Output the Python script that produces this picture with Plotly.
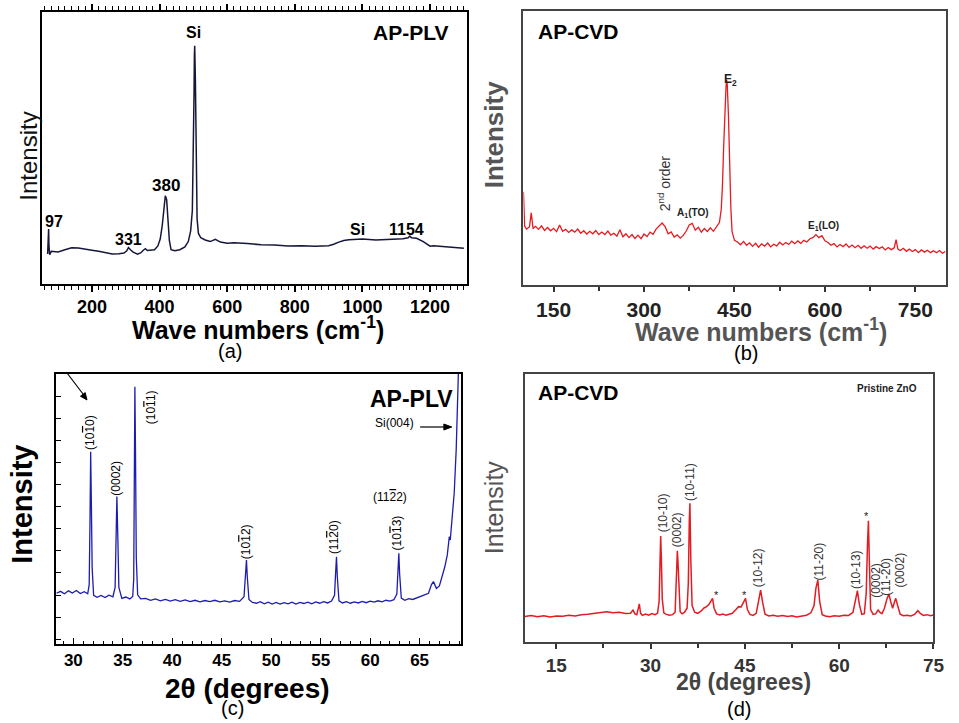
import plotly.graph_objects as go

W, H = 959, 723
SANS = "Liberation Sans, Arial, sans-serif"

# ---------------- (a) Raman spectrum, AP-PLV ----------------
raman_plv_x = [69, 71, 72, 73, 75, 80, 100, 120, 140, 160,
               180, 200, 220, 240, 260, 280, 295, 303, 308, 314,
               322, 335, 345, 352, 358, 364, 372, 385, 395, 402,
               408, 413, 417, 421, 425, 429, 434, 445, 460, 475,
               485, 492, 497, 500, 502, 503, 504, 506, 508, 511,
               515, 522, 535, 550, 565, 580, 600, 620, 660, 700,
               740, 780, 820, 860, 900, 915, 930, 945, 960, 1000,
               1040, 1080, 1120, 1135, 1140, 1145, 1160, 1180, 1190, 1200,
               1210, 1240, 1270, 1300]
raman_plv_y = [11.0, 16.0, 20.2, 14.0, 10.8, 12.0, 11.8, 12.6, 13.3, 13.2,
               12.9, 12.4, 12.0, 11.4, 11.0, 11.1, 11.4, 12.2, 13.4, 12.6,
               11.7, 11.0, 11.5, 12.4, 13.0, 12.3, 12.5, 12.6, 14.0, 16.5,
               21.5, 29.0, 32.4, 31.0, 24.0, 16.0, 12.6, 12.2, 12.6, 13.6,
               15.6, 19.5, 27.0, 45.0, 70.0, 84.0, 87.6, 75.0, 45.0, 24.0,
               18.6, 17.0, 16.2, 15.6, 16.4, 15.4, 15.0, 15.2, 14.9, 14.4,
               14.3, 14.0, 14.1, 13.9, 14.1, 14.6, 15.4, 16.0, 16.3, 16.5,
               16.2, 16.3, 16.6, 17.0, 17.6, 17.0, 16.8, 15.6, 14.6, 13.9,
               14.1, 13.7, 13.5, 13.1]

# ---------------- (b) Raman spectrum, AP-CVD ----------------
raman_cvd_x = [100, 102, 105, 110, 113, 116, 120, 125, 130, 135,
               140, 145, 150, 155, 160, 165, 170, 175, 180, 185,
               190, 195, 200, 205, 210, 215, 220, 225, 230, 235,
               240, 245, 250, 255, 260, 265, 270, 275, 280, 285,
               290, 295, 300, 305, 310, 315, 320, 325, 330, 335,
               340, 345, 350, 355, 360, 365, 370, 375, 380, 385,
               390, 395, 400, 405, 410, 415, 420, 425, 428, 430,
               432, 434, 436, 437, 438, 440, 442, 444, 446, 450,
               455, 460, 465, 470, 475, 480, 485, 490, 495, 500,
               505, 510, 515, 520, 525, 530, 535, 540, 545, 550,
               555, 560, 565, 570, 575, 580, 585, 590, 595, 600,
               605, 610, 615, 620, 625, 630, 635, 640, 645, 650,
               655, 660, 665, 670, 675, 680, 685, 690, 695, 700,
               705, 710, 715, 718, 721, 725, 730, 735, 740, 745,
               750, 755, 760, 765, 770, 775, 780, 785, 790, 795,
               800]
raman_cvd_y = [34.0, 21.5, 20.4, 21.2, 26.3, 20.6, 21.4, 20.3, 21.6, 19.9,
               21.0, 19.8, 20.7, 19.5, 21.9, 19.6, 20.3, 19.2, 20.1, 19.3,
               20.4, 18.9, 19.8, 18.6, 19.6, 18.7, 19.9, 18.4, 19.3, 18.4,
               19.7, 18.2, 18.9, 17.8, 20.2, 17.6, 18.7, 17.3, 18.4, 17.0,
               18.2, 16.9, 18.6, 17.7, 19.3, 18.5, 20.4, 21.5, 22.6, 21.3,
               18.7, 19.4, 17.5, 18.3, 17.1, 18.1, 19.7, 21.9, 22.5, 20.0,
               21.1, 19.3, 20.6, 19.5, 20.9, 19.6, 21.3, 22.8, 27.5, 36.0,
               50.0, 64.0, 72.5, 74.8, 73.2, 62.0, 44.0, 28.0, 19.5, 16.3,
               15.7, 14.7, 15.9, 14.5, 15.4, 14.1, 15.2, 13.8, 15.0, 14.2,
               15.3, 13.9, 14.9, 14.3, 15.6, 14.6, 15.5, 14.8, 16.0, 15.1,
               16.1, 15.2, 16.3, 15.7, 16.9, 17.3, 18.4, 17.3, 18.0, 16.1,
               15.5, 14.5, 15.1, 13.9, 14.8, 14.0, 15.0, 13.7, 14.6, 13.6,
               14.5, 13.4, 14.3, 13.4, 14.2, 13.1, 14.0, 13.3, 13.9, 12.8,
               13.7, 12.9, 13.6, 16.6, 13.1, 12.6, 13.4, 12.3, 13.1, 12.2,
               12.9, 11.8, 12.8, 12.0, 12.7, 11.8, 12.5, 11.8, 12.6, 11.6,
               12.3]

# ---------------- (c) XRD pattern, AP-PLV ----------------
xrd_plv_x = [28.3, 28.7, 29.1, 29.5, 29.9, 30.3, 30.7, 31.1, 31.45, 31.6,
             31.68, 31.75, 31.82, 31.9, 32.05, 32.4, 32.8, 33.2, 33.6, 34.0,
             34.22, 34.33, 34.4, 34.48, 34.6, 34.9, 35.3, 35.7, 36.0, 36.1,
             36.17, 36.22, 36.28, 36.36, 36.5, 36.8, 37.3, 37.8, 38.3, 38.8,
             39.3, 39.8, 40.3, 40.8, 41.3, 41.8, 42.3, 42.8, 43.3, 43.8,
             44.3, 44.8, 45.3, 45.8, 46.3, 46.8, 47.25, 47.42, 47.5, 47.58,
             47.75, 48.1, 48.5, 48.9, 49.3, 49.7, 50.1, 50.5, 50.9, 51.3,
             51.7, 52.1, 52.5, 52.9, 53.3, 53.7, 54.1, 54.5, 54.9, 55.3,
             55.7, 56.1, 56.4, 56.52, 56.6, 56.68, 56.85, 57.2, 57.6, 58.0,
             58.4, 58.8, 59.2, 59.6, 60.0, 60.4, 60.8, 61.2, 61.6, 62.0,
             62.4, 62.7, 62.82, 62.9, 62.98, 63.15, 63.5, 63.9, 64.3, 64.7,
             65.1, 65.5, 65.9, 66.2, 66.4, 66.7, 67.0, 67.3, 67.55, 67.8,
             68.0, 68.1, 68.3, 68.5, 68.7, 68.85, 69.0, 69.15]
xrd_plv_y = [18.8, 19.5, 18.6, 19.7, 18.9, 19.8, 18.7, 19.4, 18.6, 22.0,
             45.0, 71.2, 52.0, 28.0, 18.0, 17.3, 18.0, 17.2, 18.1, 17.5,
             21.0, 46.0, 54.6, 42.0, 21.0, 16.9, 17.4, 16.7, 17.6, 24.0,
             70.0, 95.3, 72.0, 32.0, 18.2, 16.7, 16.9, 16.2, 16.7, 16.0,
             16.5, 15.9, 16.4, 15.8, 16.3, 15.7, 16.2, 15.6, 16.1, 15.7,
             16.2, 15.6, 16.0, 15.5, 16.1, 15.8, 17.5, 26.0, 31.1, 25.0,
             16.5, 15.4, 15.1, 15.7, 14.9, 15.5, 14.8, 15.4, 14.8, 15.3,
             14.9, 15.5, 14.8, 15.4, 15.0, 15.5, 14.9, 15.6, 15.1, 15.7,
             15.2, 15.9, 18.0, 27.0, 32.3, 25.0, 16.0, 15.2, 15.7, 15.1,
             15.6, 15.2, 15.8, 15.3, 15.9, 15.5, 16.0, 15.6, 16.2, 15.9,
             16.4, 18.5, 28.0, 33.6, 26.0, 17.0, 16.2, 16.8, 16.5, 17.0,
             17.5, 18.2, 18.8, 22.0, 23.1, 20.6, 21.5, 25.0, 28.6, 33.0,
             39.7, 38.5, 46.0, 56.0, 72.0, 88.0, 110.0, 130.0]

# ---------------- (d) XRD pattern, AP-CVD ----------------
xrd_cvd_x = [10.0, 11.0, 12.0, 13.0, 14.0, 15.0, 16.0, 17.0, 18.0, 19.0,
             20.0, 21.0, 22.0, 23.0, 24.0, 25.0, 26.0, 26.8, 27.2, 27.5,
             27.8, 28.0, 28.2, 28.4, 28.7, 29.2, 29.7, 30.2, 30.7, 31.1,
             31.35, 31.5, 31.6, 31.7, 31.85, 32.1, 32.5, 33.0, 33.5, 33.9,
             34.1, 34.25, 34.35, 34.5, 34.7, 35.0, 35.4, 35.8, 36.0, 36.15,
             36.25, 36.4, 36.6, 37.0, 37.5, 38.0, 38.5, 38.9, 39.3, 39.6,
             39.85, 40.1, 40.5, 41.0, 41.5, 42.0, 42.5, 43.0, 43.5, 44.0,
             44.4, 44.8, 45.1, 45.4, 45.8, 46.3, 46.8, 47.2, 47.5, 47.8,
             48.2, 48.8, 49.5, 50.2, 51.0, 51.8, 52.5, 53.2, 54.0, 54.8,
             55.5, 56.0, 56.3, 56.6, 56.9, 57.3, 57.8, 58.5, 59.2, 60.0,
             60.8, 61.5, 62.2, 62.6, 62.9, 63.2, 63.6, 64.0, 64.3, 64.5,
             64.65, 64.8, 65.0, 65.4, 65.8, 66.2, 66.5, 66.8, 67.2, 67.6,
             67.9, 68.2, 68.5, 68.8, 69.0, 69.3, 69.7, 70.2, 70.8, 71.4,
             72.0, 72.5, 72.9, 73.4, 74.0, 74.5, 75.0]
xrd_cvd_y = [9.4, 9.8, 9.3, 9.7, 9.2, 9.6, 9.5, 9.9, 9.6, 10.1,
             10.3, 10.6, 10.9, 11.2, 10.8, 11.0, 10.5, 10.6, 11.8, 10.4,
             10.1, 12.5, 14.1, 10.6, 9.8, 10.3, 9.9, 10.5, 10.1, 10.6,
             15.0, 30.0, 39.5, 32.0, 16.0, 10.8, 10.2, 9.9, 10.1, 11.0,
             24.0, 34.0, 30.0, 18.0, 11.2, 10.4, 11.0, 12.5, 22.0, 45.0,
             51.7, 30.0, 13.5, 11.0, 10.6, 11.4, 12.6, 13.1, 14.0, 15.2,
             16.2, 12.5, 10.4, 10.0, 10.3, 9.9, 10.2, 10.6, 11.8, 13.1,
             13.0, 14.8, 16.2, 12.0, 10.2, 9.8, 10.6, 15.5, 19.3, 15.0,
             10.3, 9.6, 9.9, 9.5, 9.8, 9.4, 9.7, 9.2, 9.6, 9.9,
             10.8, 13.5, 20.0, 23.0, 15.0, 10.1, 9.6, 9.3, 9.7, 9.5,
             9.9, 9.8, 11.0, 16.5, 19.1, 14.0, 10.2, 10.5, 18.0, 36.0,
             45.2, 30.0, 12.0, 10.2, 10.4, 11.8, 10.9, 10.5, 12.5, 16.0,
             17.8, 15.0, 12.5, 14.8, 16.2, 13.5, 10.3, 9.7, 9.9, 9.6,
             10.2, 11.6, 10.6, 9.8, 10.1, 9.7, 10.0]

# labelled tick positions on each x axis
raman_plv_ticks = [200, 400, 600, 800, 1000, 1200]
raman_cvd_ticks = [150, 300, 450, 600, 750]
xrd_plv_ticks = [30, 35, 40, 45, 50, 55, 60, 65]
xrd_cvd_ticks = [15, 30, 45, 60, 75]


def xd(a, b):
    return [a / W, b / W]


def yd(top, bottom):
    return [1 - bottom / H, 1 - top / H]


def px(x, y):
    return x / W, 1 - y / H


def linear_ticks(ticks):
    return dict(tickmode="linear", tick0=ticks[0], dtick=ticks[1] - ticks[0])


fig = go.Figure()
fig.add_trace(go.Scatter(x=raman_plv_x, y=raman_plv_y, mode="lines",
                         line=dict(color="#16163c", width=1.5),
                         xaxis="x", yaxis="y", showlegend=False))
fig.add_trace(go.Scatter(x=raman_cvd_x, y=raman_cvd_y, mode="lines",
                         line=dict(color="#e8191f", width=1.3),
                         xaxis="x2", yaxis="y2", showlegend=False))
fig.add_trace(go.Scatter(x=xrd_plv_x, y=xrd_plv_y, mode="lines",
                         line=dict(color="#1c1cb0", width=1.3),
                         xaxis="x3", yaxis="y3", showlegend=False))
fig.add_trace(go.Scatter(x=xrd_cvd_x, y=xrd_cvd_y, mode="lines",
                         line=dict(color="#e31b23", width=1.5),
                         xaxis="x4", yaxis="y4", showlegend=False))


def frame_y(domain, anchor, color, width, **extra):
    d = dict(domain=domain, anchor=anchor, range=[0, 100], showline=True,
             mirror=True, linecolor=color, linewidth=width, showgrid=False,
             zeroline=False, showticklabels=False, ticks="", fixedrange=True)
    d.update(extra)
    return d


fig.update_layout(
    width=W, height=H, margin=dict(l=0, r=0, t=0, b=0),
    paper_bgcolor="white", plot_bgcolor="white",
    xaxis=dict(domain=xd(42.7, 472), anchor="y", range=[53, 1308],
               **linear_ticks(raman_plv_ticks), ticks="outside", ticklen=6,
               tickwidth=1.5, tickcolor="#000", mirror="allticks",
               showline=True, linecolor="#000", linewidth=1.5,
               showgrid=False, zeroline=False,
               minor=dict(dtick=20, tick0=0, ticks="outside", ticklen=4,
                          tickcolor="#000", tickwidth=1.2, showgrid=False),
               tickfont=dict(family=SANS, size=18, color="#000", weight="bold")),
    yaxis=frame_y(yd(12, 284), "x", "#000", 1.5),
    xaxis2=dict(domain=xd(529.5, 956.5), anchor="y2", range=[100, 800],
                **linear_ticks(raman_cvd_ticks), ticks="outside", ticklen=5,
                tickwidth=1.5, tickcolor="#333", mirror=True,
                showline=True, linecolor="#444", linewidth=2,
                showgrid=False, zeroline=False,
                minor=dict(dtick=75, tick0=0, ticks="outside", ticklen=4,
                           tickcolor="#333", tickwidth=1.5, showgrid=False),
                tickfont=dict(family=SANS, size=21, color="#222", weight="bold")),
    yaxis2=frame_y(yd(11, 285), "x2", "#444", 2),
    xaxis3=dict(domain=xd(56.7, 466), anchor="y3", range=[28.25, 69.15],
                **linear_ticks(xrd_plv_ticks), ticks="inside", ticklen=6,
                tickwidth=1.3, tickcolor="#000", mirror=True,
                showline=True, linecolor="#000", linewidth=1.5,
                showgrid=False, zeroline=False,
                minor=dict(dtick=1, tick0=0, ticks="inside", ticklen=3,
                           tickcolor="#000", tickwidth=1, showgrid=False),
                tickfont=dict(family=SANS, size=17, color="#000", weight="bold")),
    yaxis3=frame_y(yd(374, 644), "x3", "#000", 1.5, ticks="inside",
                   ticklen=5, tickcolor="#000", tickmode="linear",
                   tick0=1.85, dtick=8.15),
    xaxis4=dict(domain=xd(531, 944.3), anchor="y4", range=[10, 75],
                **linear_ticks(xrd_cvd_ticks), ticks="outside", ticklen=5,
                tickwidth=1.5, tickcolor="#333", mirror=True,
                showline=True, linecolor="#444", linewidth=2,
                showgrid=False, zeroline=False,
                minor=dict(dtick=7.5, tick0=0, ticks="outside", ticklen=4,
                           tickcolor="#333", tickwidth=1.5, showgrid=False),
                tickfont=dict(family=SANS, size=19, color="#333", weight="bold")),
    yaxis4=frame_y(yd(374, 641.7), "x4", "#444", 2),
)


def note(text, x, y, size, color="#000", bold=False, angle=0):
    return dict(text=f"<b>{text}</b>" if bold else text,
                x=x / W, y=1 - y / H, xref="paper", yref="paper",
                showarrow=False, xanchor="center", yanchor="middle",
                textangle=angle,
                font=dict(family=SANS, size=size, color=color))


def bar(d):
    # Miller-Bravais index digit with an overbar
    return f'<span style="text-decoration:overline">{d}</span>'


ann = [
    # (a)
    note("AP-PLV", 415, 33, 21, bold=True),
    note("Si", 196, 33, 16, bold=True),
    note("380", 168, 186, 17, bold=True),
    note("97", 55, 221, 16, bold=True),
    note("331", 130, 240, 16, bold=True),
    note("Si", 362, 229, 16, bold=True),
    note("1154", 411, 229, 16, bold=True),
    note("Wave numbers (cm<sup>-1</sup>)", 261, 328, 25, bold=True),
    note("Intensity", 28, 156, 24, color="#111", angle=-90),
    note("(a)", 233, 351, 20),
    # (b)
    note("AP-CVD", 585, 32, 21, bold=True),
    note("E<sub>2</sub>", 739, 80, 12, color="#222", bold=True),
    note("2<sup>nd</sup> order", 672, 183, 14, color="#333", angle=-90),
    note("A<sub>1</sub>(TO)", 701, 213, 10, color="#222", bold=True),
    note("E<sub>1</sub>(LO)", 833, 226, 10, color="#222", bold=True),
    note("Wave numbers (cm<sup>-1</sup>)", 770, 330, 25, color="#555", bold=True),
    note("Intensity", 500, 135, 26, color="#555", bold=True, angle=-90),
    note("(b)", 755, 353, 20),
    # (c)
    note("AP-PLV", 416, 399, 23, bold=True),
    note("Si(004)", 399, 423, 12),
    note(f"(10{bar(1)}0)", 91, 432, 12, angle=-90),
    note("(0002)", 117, 478, 12, angle=-90),
    note(f"(10{bar(1)}1)", 153, 407, 12, angle=-90),
    note(f"(10{bar(1)}2)", 249, 542, 12, angle=-90),
    note(f"(11{bar(2)}0)", 338, 537, 12, angle=-90),
    note(f"(10{bar(1)}3)", 402, 533, 12, angle=-90),
    note(f"(11{bar(2)}2)", 395, 497, 12),
    note("2\u03b8 (degrees)", 250, 688, 28, bold=True),
    note("Intensity", 22, 504, 29, bold=True, angle=-90),
    note("(c)", 235, 708, 20),
    # (d)
    note("AP-CVD", 585, 393, 21, bold=True),
    note("Pristine ZnO", 897, 388, 10, color="#222", bold=True),
    note("(10-10)", 671, 513, 12, color="#333", angle=-90),
    note("(0002)", 685, 530, 12, color="#333", angle=-90),
    note("(10-11)", 698, 482, 12, color="#333", angle=-90),
    note("(10-12)", 767, 568, 12, color="#333", angle=-90),
    note("(11-20)", 828, 562, 12, color="#333", angle=-90),
    note("(10-13)", 866, 570, 12, color="#333", angle=-90),
    note("(0002)", 886, 580, 12, color="#333", angle=-90),
    note("(11-20)", 896, 577, 12, color="#333", angle=-90),
    note("(0002)", 910, 570, 12, color="#333", angle=-90),
    note("*", 725, 595, 11, color="#222"),
    note("*", 753, 595, 11, color="#222"),
    note("*", 877, 516, 11, color="#222"),
    note("2\u03b8 (degrees)", 752, 682, 23, color="#444", bold=True),
    note("Intensity", 500, 507, 25, color="#555", angle=-90),
    note("(d)", 748, 709, 20),
]
fig.update_layout(annotations=ann)


# pointer arrows in (c): shaft plus a filled head
def arrow_shapes(tail, base, tip, wing1, wing2):
    x0, y0 = px(*tail)
    x1, y1 = px(*base)
    shaft = dict(type="line", xref="paper", yref="paper", x0=x0, y0=y0,
                 x1=x1, y1=y1, line=dict(color="#000", width=1.2))
    pts = [px(*tip), px(*wing1), px(*wing2)]
    path = "M {} {} L {} {} L {} {} Z".format(*[v for p in pts for v in p])
    head = dict(type="path", xref="paper", yref="paper", path=path,
                fillcolor="#000", line=dict(color="#000", width=1))
    return [shaft, head]


shapes = []
shapes += arrow_shapes((425, 427), (450, 427), (457, 427), (449, 424), (449, 430))
shapes += arrow_shapes((67, 372), (84, 394), (88, 400), (86.2, 392.6), (81.4, 396.2))
fig.update_layout(shapes=shapes)

fig.write_html("out.html")
